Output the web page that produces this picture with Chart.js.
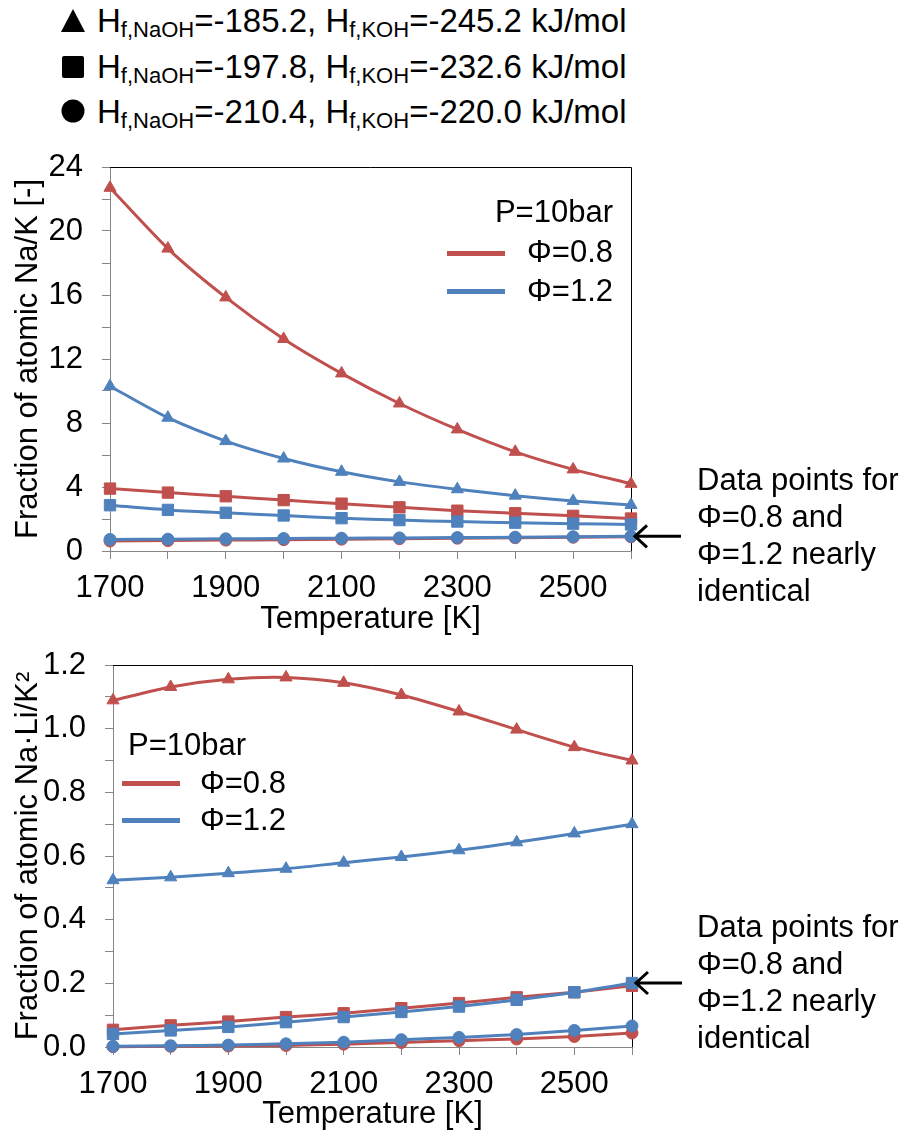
<!DOCTYPE html>
<html>
<head>
<meta charset="utf-8">
<script src="https://cdn.jsdelivr.net/npm/chart.js@4"></script>
<style>
  body { margin: 0; background: #fff; }
  #page { position: relative; width: 909px; height: 1135px; overflow: hidden;
          font-family: "Liberation Sans", Arial, sans-serif; color: #000; }
  canvas { position: absolute; left: 0; }
  .t { position: absolute; font-size: 31px; line-height: 37px; white-space: nowrap; }
  .h { font-size: 33px; }
  .h sub { font-size: 22px; vertical-align: -5px; line-height: 0; }
  .key { position: absolute; height: 5px; }
  .mk { position: absolute; }
</style>
</head>
<body>
<div id="page">
  <!-- marker key for the formation enthalpy sets -->
  <svg class="mk" style="left:60px;top:8px" width="26" height="26"><polygon points="13,1 25,24 1,24" fill="#000"/></svg>
  <svg class="mk" style="left:60px;top:54px" width="26" height="26"><rect x="2" y="2" width="22" height="22" rx="2" fill="#000"/></svg>
  <svg class="mk" style="left:60px;top:98px" width="26" height="26"><circle cx="13" cy="13" r="11.5" fill="#000"/></svg>
  <div class="t h" style="left:97px;top:2px">H<sub>f,NaOH</sub>=-185.2, H<sub>f,KOH</sub>=-245.2 kJ/mol</div>
  <div class="t h" style="left:97px;top:48px">H<sub>f,NaOH</sub>=-197.8, H<sub>f,KOH</sub>=-232.6 kJ/mol</div>
  <div class="t h" style="left:97px;top:93px">H<sub>f,NaOH</sub>=-210.4, H<sub>f,KOH</sub>=-220.0 kJ/mol</div>

  <canvas id="naK" width="909" height="500" style="top:140px"></canvas>
  <canvas id="naLi" width="909" height="495" style="top:640px"></canvas>

  <!-- legend inside the Na/K chart -->
  <div class="t" style="right:296px;top:193px">P=10bar</div>
  <div class="key" style="left:447px;top:251px;width:58px;background:#C0504D"></div>
  <div class="t" style="right:296px;top:233px">Φ=0.8</div>
  <div class="key" style="left:447px;top:289px;width:58px;background:#4F81BD"></div>
  <div class="t" style="right:296px;top:272px">Φ=1.2</div>

  <!-- legend inside the Na·Li/K² chart -->
  <div class="t" style="left:128px;top:726px">P=10bar</div>
  <div class="key" style="left:122px;top:781px;width:58px;background:#C0504D"></div>
  <div class="t" style="left:200px;top:764px">Φ=0.8</div>
  <div class="key" style="left:122px;top:818px;width:58px;background:#4F81BD"></div>
  <div class="t" style="left:200px;top:801px">Φ=1.2</div>

  <div class="t" style="left:697px;top:461px">Data points for<br>Φ=0.8 and<br>Φ=1.2 nearly<br>identical</div>
  <div class="t" style="left:697px;top:908px">Data points for<br>Φ=0.8 and<br>Φ=1.2 nearly<br>identical</div>
</div>

<script>
// temperatures [K]
const temps = [1700, 1800, 1900, 2000, 2100, 2200, 2300, 2400, 2500, 2600];
const xTicks = [1700, 1900, 2100, 2300, 2500];

// atomic Na/K ratio
const naK_tri_08 = [22.7, 18.9, 15.85, 13.25, 11.1, 9.22, 7.6, 6.2, 5.1, 4.2];
const naK_tri_12 = [10.3, 8.33, 6.87, 5.78, 4.95, 4.32, 3.86, 3.46, 3.13, 2.88];
const naK_sq_08 = [3.9, 3.65, 3.42, 3.18, 2.96, 2.73, 2.52, 2.36, 2.2, 2.03];
const naK_sq_12 = [2.86, 2.57, 2.39, 2.22, 2.05, 1.93, 1.84, 1.77, 1.71, 1.66];
const naK_ci_08 = [0.62, 0.65, 0.68, 0.71, 0.74, 0.77, 0.80, 0.83, 0.86, 0.89];
const naK_ci_12 = [0.72, 0.74, 0.76, 0.78, 0.80, 0.82, 0.84, 0.86, 0.89, 0.92];
const naK_yTicks = [0, 4, 8, 12, 16, 20, 24];

// atomic Na·Li/K² ratio
const naLi_tri_08 = [1.089, 1.131, 1.155, 1.161, 1.144, 1.106, 1.054, 0.997, 0.942, 0.900];
const naLi_tri_12 = [0.524, 0.533, 0.546, 0.560, 0.579, 0.597, 0.618, 0.643, 0.671, 0.700];
const naLi_sq_08 = [0.054, 0.068, 0.080, 0.094, 0.106, 0.122, 0.138, 0.156, 0.172, 0.192];
const naLi_sq_12 = [0.041, 0.052, 0.063, 0.078, 0.094, 0.110, 0.127, 0.148, 0.172, 0.201];
const naLi_ci_08 = [0.001, 0.002, 0.003, 0.005, 0.009, 0.014, 0.020, 0.025, 0.033, 0.044];
const naLi_ci_12 = [0.002, 0.004, 0.006, 0.010, 0.015, 0.023, 0.030, 0.039, 0.052, 0.066];
const naLi_yTicks = [0, 0.2, 0.4, 0.6, 0.8, 1.0, 1.2];

const RED = '#C0504D';
const BLUE = '#4F81BD';
const AXIS = '#868686';
const FONT = { family: '"Liberation Sans", Arial, sans-serif', size: 31 };

function series(values, color, style) {
  const radius = style === 'rect' ? 8 : style === 'triangle' ? 7 : 6;
  return {
    data: values.map((v, i) => ({ x: temps[i], y: v })),
    borderColor: color,
    backgroundColor: color,
    borderWidth: 3,
    tension: 0.25,
    pointStyle: style,
    pointRadius: radius,
    pointBorderWidth: 1,
    pointBorderColor: color,
    pointBackgroundColor: color,
    clip: false
  };
}

// black top/right border, plus the arrow pointing at one marker
const framePlugin = {
  id: 'frame',
  beforeDatasetsDraw(chart) {
    const { ctx, chartArea: a } = chart;
    ctx.save();
    ctx.strokeStyle = '#000';
    ctx.lineWidth = 1;
    ctx.beginPath();
    ctx.moveTo(a.left, Math.round(a.top) + 0.5);
    ctx.lineTo(Math.round(a.right) + 0.5, Math.round(a.top) + 0.5);
    ctx.lineTo(Math.round(a.right) + 0.5, a.bottom);
    ctx.stroke();
    ctx.restore();
  },
  afterDraw(chart, args, opts) {
    if (!opts.arrow) return;
    const [ds, idx] = opts.arrow;
    const pt = chart.getDatasetMeta(ds).data[idx];
    const x = pt.x + 3, y = pt.y + (opts.dy || 0);
    const { ctx } = chart;
    ctx.save();
    ctx.strokeStyle = '#000';
    ctx.lineWidth = 3;
    ctx.beginPath();
    ctx.moveTo(x + 47, y);
    ctx.lineTo(x, y);
    ctx.moveTo(x + 13, y - 11);
    ctx.lineTo(x + 1, y);
    ctx.lineTo(x + 13, y + 11);
    ctx.stroke();
    ctx.restore();
  }
};

// fixed axis sizes so the plot area lands where it should
function fixX(h) {
  return s => { s.height = h; s.paddingLeft = 0; s.paddingRight = 0; };
}
function fixY(w) {
  return s => { s.width = w; s.paddingTop = 0; s.paddingBottom = 0; };
}

function makeChart(id, datasets, yMax, yStep, yLabels, yTitle, yWidth, layout, xHeight, arrow, decimals) {
  return new Chart(document.getElementById(id), {
    type: 'line',
    data: { datasets: datasets },
    plugins: [framePlugin],
    options: {
      responsive: false,
      animation: false,
      devicePixelRatio: 1,
      layout: { padding: layout },
      plugins: {
        legend: { display: false },
        tooltip: { enabled: false },
        frame: { arrow: arrow }
      },
      scales: {
        x: {
          type: 'linear',
          min: 1700,
          max: 2600,
          afterFit: fixX(xHeight),
          border: { color: AXIS, width: 1 },
          grid: { drawOnChartArea: false, drawTicks: true, tickLength: 8, color: AXIS },
          ticks: {
            stepSize: 100,
            autoSkip: false,
            maxRotation: 0,
            padding: 11,
            color: '#000',
            font: FONT,
            callback: v => xTicks.includes(v) ? String(v) : ''
          },
          title: { display: true, text: 'Temperature [K]', color: '#000', font: FONT, padding: { top: 0, bottom: 2 } }
        },
        y: {
          min: 0,
          max: yMax,
          afterFit: fixY(yWidth),
          border: { color: AXIS, width: 1 },
          grid: { drawOnChartArea: false, drawTicks: true, tickLength: 8, color: AXIS },
          ticks: {
            stepSize: yStep,
            autoSkip: false,
            padding: 19,
            color: '#000',
            font: FONT,
            callback: v => yLabels.some(t => Math.abs(t - v) < 1e-9) ? v.toFixed(decimals) : ''
          },
          title: { display: true, text: yTitle, color: '#000', font: FONT, padding: { top: 10, bottom: 0 } }
        }
      }
    }
  });
}

// blue first so it sits on top of the red lines
makeChart('naK', [
  series(naK_ci_12, BLUE, 'circle'),
  series(naK_sq_12, BLUE, 'rect'),
  series(naK_tri_12, BLUE, 'triangle'),
  series(naK_ci_08, RED, 'circle'),
  series(naK_sq_08, RED, 'rect'),
  series(naK_tri_08, RED, 'triangle')
], 24, 2, naK_yTicks, 'Fraction of atomic Na/K [-]', 110,
  { left: 0, right: 278, top: 27, bottom: 0 }, 89, [0, 9], 0);

makeChart('naLi', [
  series(naLi_ci_12, BLUE, 'circle'),
  series(naLi_sq_12, BLUE, 'rect'),
  series(naLi_tri_12, BLUE, 'triangle'),
  series(naLi_ci_08, RED, 'circle'),
  series(naLi_sq_08, RED, 'rect'),
  series(naLi_tri_08, RED, 'triangle')
], 1.2, 0.1, naLi_yTicks, 'Fraction of atomic Na·Li/K²', 113,
  { left: 0, right: 277, top: 25, bottom: 0 }, 88, [1, 9], 1);
</script>
</body>
</html>
